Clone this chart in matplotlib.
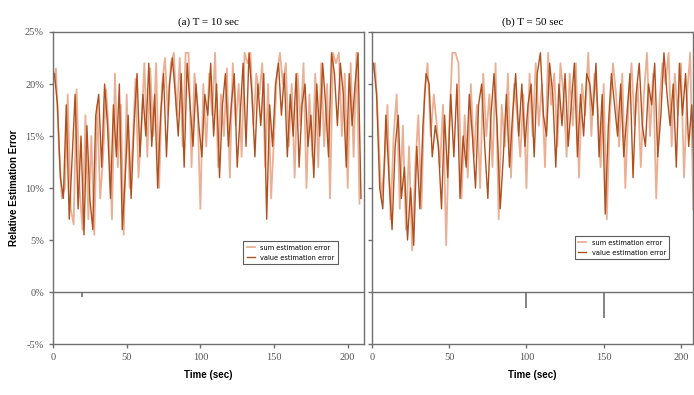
import matplotlib.pyplot as plt
from matplotlib.ticker import FuncFormatter

# (a) T = 10 sec
t_a_sum = list(range(0, 210, 2))
sum_a = [20, 21.5, 14, 9, 10, 19, 8, 6.5, 19.5, 10,
         6, 17, 7, 15, 5.5, 18, 9, 13, 19.5, 15,
         7, 21, 12, 18, 5.5, 19, 10, 14, 20.5, 11,
         16, 22, 13, 21.5, 15, 22, 10, 20, 22.5, 17,
         22, 23, 17, 22.5, 14, 23, 23, 12, 21, 18,
         8, 20, 14, 21, 17, 23, 12, 19, 15, 21.5,
         11, 22, 16, 20, 13, 23, 22, 23, 16, 21,
         19, 22, 12, 20, 9, 15, 21, 23, 20, 22,
         14, 20, 11, 21, 16, 22, 10, 19, 13, 21,
         12, 22, 14, 20, 9, 23, 22, 23, 15, 21,
         10, 22, 13, 23, 8.5]
t_a_val = list(range(1, 211, 2))
val_a = [21, 18, 11, 9, 18, 7, 13, 19, 8, 15,
         5.5, 16, 9, 6, 17, 19, 12, 20, 16, 9,
         18, 13, 20, 6, 11, 17, 9, 16, 21, 13,
         19, 15, 22, 14, 19, 10, 17, 21, 13, 20,
         22.5, 19, 15, 21, 12, 22, 18, 14, 20, 16,
         13, 19, 17, 22, 15, 20, 11, 18, 21, 14,
         18, 21, 12, 17, 22, 14, 23, 19, 13, 20,
         16, 21, 7, 18, 14, 20, 22, 17, 21, 13,
         19, 15, 21, 12, 18, 20, 14, 17, 11, 20,
         15, 22, 18, 13, 23, 21, 16, 22, 19, 12,
         21, 16, 20, 23, 9]
dip_t_a = [20]
dip_v_a = [-0.5]

# (b) T = 50 sec
t_b_sum = list(range(0, 210, 2))
sum_b = [21, 22, 16, 9, 12, 18, 7, 15, 19, 8,
         16, 6, 14, 4, 12, 17, 8, 19, 22, 15,
         19, 16, 12, 18, 4.5, 16, 23, 23, 22, 9,
         17, 11, 20, 13, 18, 10, 21, 15, 19, 12,
         22, 7, 18, 14, 21, 11, 20, 17, 13, 19,
         10, 21, 15, 22, 16, 20, 12, 23, 18, 21,
         14, 22, 19, 13, 21, 16, 22, 11, 20, 17,
         23, 15, 21, 18, 12, 20, 7, 17, 22, 19,
         14, 21, 10, 18, 22, 16, 20, 12, 19, 23,
         15, 21, 9, 18, 22, 20, 23, 14, 21, 17,
         22, 11, 19, 23, 8]
t_b_val = list(range(1, 211, 2))
val_b = [22, 19, 10, 8, 17, 11, 6, 14, 17, 9,
         12, 5, 10, 4.5, 14, 8, 16, 21, 20, 13,
         16, 14, 8, 17, 11, 19, 13, 20, 9, 15,
         12, 19, 15, 10, 18, 20, 14, 9, 17, 21,
         16, 8, 13, 19, 12, 17, 21, 15, 20, 14,
         18, 20, 13, 21, 23, 17, 15, 22, 19, 12,
         20, 16, 21, 14, 18, 22, 13, 19, 15, 21,
         20, 17, 22, 13, 19, 7.5, 16, 21, 18, 15,
         20, 13, 17, 21, 11, 19, 22, 16, 14, 20,
         18, 22, 13, 17, 23, 19, 16, 20, 12, 22,
         17, 21, 14, 18, 10]
dip_t_b = [100, 150]
dip_v_b = [-1.5, -2.5]

light = "#EAB095"
dark = "#B0501E"
grey = "#6f6f6f"
serif = "Liberation Serif"

fig = plt.figure(figsize=(6.94, 3.95), dpi=100)
ax1 = fig.add_axes([0.0764, 0.129, 0.448, 0.790])
ax2 = fig.add_axes([0.536, 0.129, 0.463, 0.790])

panels = [
    (ax1, "(a) T = 10 sec", t_a_sum, sum_a, t_a_val, val_a, dip_t_a, dip_v_a, 211, (0.926, 0.34)),
    (ax2, "(b) T = 50 sec", t_b_sum, sum_b, t_b_val, val_b, dip_t_b, dip_v_b, 208, (0.935, 0.356)),
]

for ax, title, ts, s, tv, v, dt, dv, xmax, leg in panels:
    ax.plot(ts, s, color=light, lw=1.3, label="sum estimation error")
    ax.plot(tv, v, color=dark, lw=1.0, label="value estimation error")
    ax.vlines(dt, 0, dv, color=grey, lw=1.2)
    ax.axhline(0, color=grey, lw=1.0)
    ax.set_xlim(0, xmax)
    ax.set_ylim(-5, 25)
    ax.set_xticks([0, 50, 100, 150, 200])
    ax.set_yticks([-5, 0, 5, 10, 15, 20, 25])
    ax.set_title(title, fontsize=8, family=serif, pad=5)
    for sp in ax.spines.values():
        sp.set_color(grey)
        sp.set_linewidth(1.0)
    ax.tick_params(colors=grey, labelcolor="#555555", length=3, width=1, labelsize=7.5)
    for lab in ax.get_xticklabels() + ax.get_yticklabels():
        lab.set_family(serif)
    ax.set_xlabel("Time (sec)", fontsize=7, fontweight="bold", family="Liberation Sans", labelpad=6)
    lg = ax.legend(loc="upper right", bbox_to_anchor=leg, fontsize=4.8, frameon=True,
                   fancybox=False, handlelength=1.2, borderpad=0.5, labelspacing=0.6)
    lg.get_frame().set_edgecolor("#333333")
    lg.get_frame().set_linewidth(0.8)

ax1.yaxis.set_major_formatter(FuncFormatter(lambda y, p: f"{y:.0f}%"))
ax1.set_ylabel("Relative Estimation Error", fontsize=7, fontweight="bold", family="Liberation Sans")
ax2.set_yticklabels([])

fig.savefig("out.png", dpi=100)
